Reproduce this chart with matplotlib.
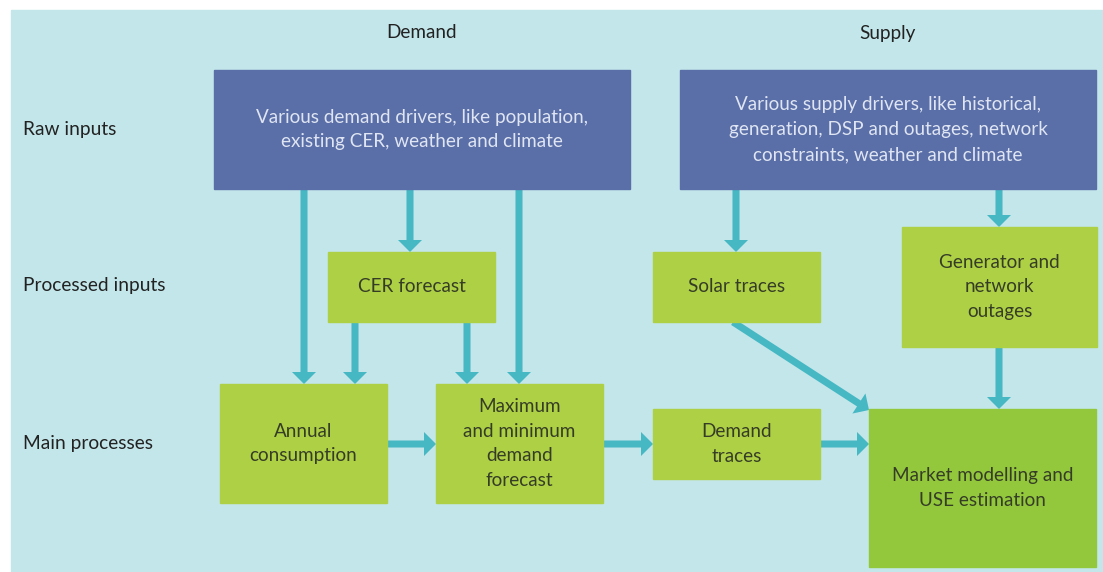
import matplotlib.pyplot as plt
from matplotlib.patches import Rectangle, FancyArrow

plt.rcParams['font.family'] = ['Lato', 'DejaVu Sans']

# text content of the diagram
column_titles = ['Demand', 'Supply']
row_titles = ['Raw inputs', 'Processed inputs', 'Main processes']
raw_labels = ['Various demand drivers, like population,\nexisting CER, weather and climate',
              'Various supply drivers, like historical,\ngeneration, DSP and outages, network\nconstraints, weather and climate']
step_labels = ['CER forecast', 'Annual\nconsumption', 'Maximum\nand minimum\ndemand\nforecast',
               'Solar traces', 'Generator and\nnetwork\noutages', 'Demand\ntraces']
final_label = 'Market modelling and\nUSE estimation'

BG = '#c3e6ea'
BLUE = '#5a6ea8'
GREEN = '#aed045'
DARKGREEN = '#93c83d'
ARROW = '#45b8c4'

W, H = 1103, 572
fig = plt.figure(figsize=(W / 100, H / 100), dpi=100)
ax = fig.add_axes([0, 0, 1, 1])
ax.set_xlim(0, W)
ax.set_ylim(H, 0)
ax.axis('off')

ax.add_patch(Rectangle((11, 10), W - 11, H - 10, color=BG, zorder=0))

# box layout: (x0, y0, x1, y1) in pixels
raw_boxes = [(214, 70, 630, 189), (680, 70, 1096, 189)]
step_boxes = [(328, 252, 495, 322), (220, 384, 387, 503), (436, 384, 603, 503),
              (653, 252, 820, 322), (902, 227, 1097, 347), (653, 409, 820, 479)]
final_box = (869, 409, 1096, 567)


def box(b, color, label, tcolor, size):
    x0, y0, x1, y1 = b
    ax.add_patch(Rectangle((x0, y0), x1 - x0, y1 - y0, color=color, zorder=2))
    ax.text((x0 + x1) / 2, (y0 + y1) / 2, label, ha='center', va='center',
            color=tcolor, fontsize=size, linespacing=1.57, zorder=3)


for b, lab in zip(raw_boxes, raw_labels):
    box(b, BLUE, lab, '#dfe5f2', 13.6)
for b, lab in zip(step_boxes, step_labels):
    box(b, GREEN, lab, '#363d26', 13.6)
box(final_box, DARKGREEN, final_label, '#363d26', 13.6)

for x, t in zip([422, 888], column_titles):
    ax.text(x, 33, t, ha='center', va='center', fontsize=13.6, color='#222222')
for y, t in zip([129, 286, 444], row_titles):
    ax.text(23, y, t, ha='left', va='center', fontsize=13.8, color='#222222')

# arrows: (x_start, y_start, x_end, y_end)
arrows = [(304, 189, 304, 384), (410, 189, 410, 252), (519, 189, 519, 384),
          (355, 322, 355, 384), (467, 322, 467, 384),
          (387, 444, 436, 444), (603, 444, 653, 444), (820, 444, 869, 444),
          (736, 189, 736, 252), (999, 189, 999, 227), (999, 347, 999, 409),
          (733, 322, 869, 410)]
for xs, ys, xe, ye in arrows:
    ax.add_patch(FancyArrow(xs, ys, xe - xs, ye - ys, width=7, head_width=24,
                            head_length=12, length_includes_head=True,
                            color=ARROW, lw=0, zorder=1))

fig.savefig('out.png', dpi=100)
